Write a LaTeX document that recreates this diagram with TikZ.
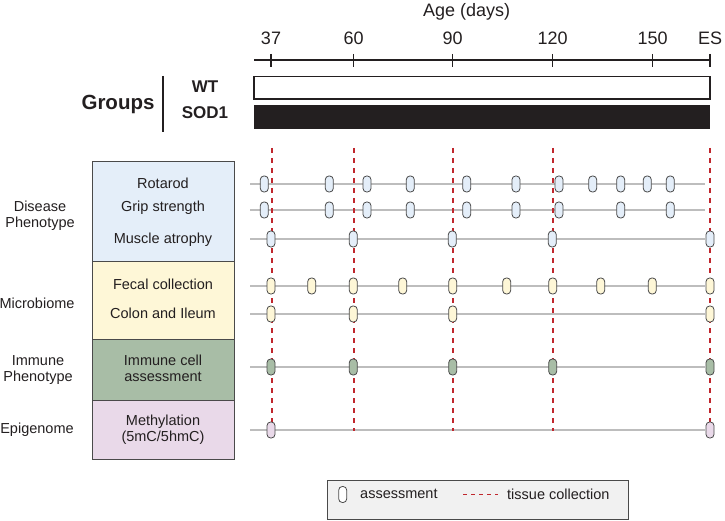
\documentclass[tikz,border=0pt]{standalone}
\usepackage{fontspec}
\setmainfont{Liberation Sans}
\definecolor{bluebox}{HTML}{E4EEF9}
\definecolor{yellowbox}{HTML}{FEF7D7}
\definecolor{greenbox}{HTML}{A8BDA6}
\definecolor{purplebox}{HTML}{E9D9E9}
\definecolor{bordergray}{HTML}{4A4A4A}
\definecolor{linegray}{HTML}{BDBDBD}
\definecolor{tissuered}{HTML}{C0272D}
\definecolor{legendfill}{HTML}{F1F1F1}
\definecolor{txtcol}{HTML}{231F20}
\tikzset{
  txt/.style={font=\fontsize{14.5}{17}\selectfont, text=txtcol, inner sep=0pt, align=center},
  axtxt/.style={font=\fontsize{18}{21}\selectfont, text=txtcol, inner sep=0pt},
  catbox/.style={draw=bordergray, line width=0.9pt, inner sep=0pt, outer sep=0pt, minimum width=142pt},
  mk/.style={draw=bordergray, line width=0.8pt, rounded corners=3.6pt, minimum width=8pt, minimum height=16pt, inner sep=0pt},
  tline/.style={draw=linegray, line width=1.6pt},
  tissue/.style={draw=tissuered, line width=1.8pt, dash pattern=on 5pt off 5pt},
}
\begin{document}
\begin{tikzpicture}[x=1pt,y=-1pt]
\useasboundingbox (0,0) rectangle (725,521);
% axis
\node[axtxt] (age) at (466.7,12) {Age (days)};
\coordinate (axl) at (254,60);
\coordinate (axr) at (710,60);
\draw[line width=1.2pt, draw=txtcol] (axl) -- (axr);
\foreach \x/\l [count=\i] in {271/37,353.7/60,452.7/90,552.7/120,652.7/150,710/ES}{
  \coordinate (tk\i) at (\x,54);
  \draw[line width=1.2pt, draw=txtcol] (tk\i) -- ++(0,13);
  \node[axtxt] (tl\i) at (\x,38.5) {\l};
}
% groups
\node[font=\fontsize{20.5}{24}\selectfont\bfseries, text=txtcol, inner sep=0pt] (groups) at (118,104.5) {Groups};
\coordinate (gv1) at (163,76);
\coordinate (gv2) at (163,132);
\draw[line width=1.2pt, draw=txtcol] (gv1) -- (gv2);
\node[font=\fontsize{17}{20}\selectfont\bfseries, text=txtcol, inner sep=0pt] (wt) at (205,87) {WT};
\node[font=\fontsize{17}{20}\selectfont\bfseries, text=txtcol, inner sep=0pt] (sod) at (205,113) {SOD1};
\draw[draw=txtcol, line width=1.4pt, fill=white] (254,76.5) rectangle (710,99);
\fill[fill=txtcol] (254,105) rectangle (710,129.5);
% category boxes
\node[catbox, fill=bluebox, minimum height=100pt] (bdis) at (163,211) {};
\node[catbox, fill=yellowbox, minimum height=78pt] (bmic) at (163,300) {};
\node[catbox, fill=greenbox, minimum height=61pt] (bimm) at (163,369.5) {};
\node[catbox, fill=purplebox, minimum height=59pt] (bepi) at (163,429.5) {};
\node[txt] (trot) at (163,183) {Rotarod};
\node[txt] (tgrip) at (163,207.5) {Grip strength};
\node[txt] (tmus) at (163,240) {Muscle atrophy};
\node[txt] (tfec) at (163,284) {Fecal collection};
\node[txt] (tcol) at (163,313) {Colon and Ileum};
\node[txt] (timm) at (163,368) {Immune cell\\[-1pt]assessment};
\node[txt] (tmet) at (163,429.5) {Methylation\\[-1pt](5mC/5hmC)};
% left labels
\node[txt] (ldis) at (40,216) {Disease\\[-1pt]Phenotype};
\node[txt] (lmic) at (37,303) {Microbiome};
\node[txt] (limm) at (38,370) {Immune\\[-1pt]Phenotype};
\node[txt] (lepi) at (37,429.5) {Epigenome};
% timelines
\foreach \y [count=\i] in {184,210,239,286,314,367,430}{
  \coordinate (ra\i) at (250,\y);
  \coordinate (rb\i) at (705,\y);
  \draw[tline] (ra\i) -- (rb\i);
}
% tissue collection
\foreach \x [count=\i] in {271.7,353.7,452.7,552.7,710}{
  \coordinate (da\i) at (\x,148);
  \coordinate (db\i) at (\x,431);
  \draw[tissue] (da\i) -- (db\i);
}
% markers
\foreach \x [count=\i] in {264.3,329.3,367,410.3,466.7,516,559,592.7,620.7,647.3,670.3}
  \node[mk, fill=bluebox] (mrot\i) at (\x,184) {};
\foreach \x [count=\i] in {264.3,329.3,367,410.3,466.7,516,559,620.7,670.3}
  \node[mk, fill=bluebox] (mgrip\i) at (\x,210) {};
\foreach \x [count=\i] in {271,353.3,452.3,552.3,710}
  \node[mk, fill=bluebox] (mmus\i) at (\x,239) {};
\foreach \x [count=\i] in {271,311.7,353.3,402.7,452.7,506.7,552.7,600.7,652.3,710}
  \node[mk, fill=yellowbox] (mfec\i) at (\x,286) {};
\foreach \x [count=\i] in {271,353.3,452.7,710}
  \node[mk, fill=yellowbox] (mcol\i) at (\x,314) {};
\foreach \x [count=\i] in {271,353.3,452.7,552.7,710}
  \node[mk, fill=greenbox] (mimm\i) at (\x,367) {};
\foreach \x [count=\i] in {271,710}
  \node[mk, fill=purplebox] (mmet\i) at (\x,430) {};
% legend
\node[draw=bordergray, line width=0.9pt, fill=legendfill, minimum width=301pt, minimum height=39pt, inner sep=0pt] (legend) at (477.5,499.5) {};
\node[mk, fill=white] (lgmk) at (342.7,494.5) {};
\node[txt, anchor=west] (lgass) at (360,494) {assessment};
\coordinate (lgd1) at (463,494.5);
\coordinate (lgd2) at (498,494.5);
\draw[draw=tissuered, line width=1.5pt, dash pattern=on 4pt off 4pt] (lgd1) -- (lgd2);
\node[txt, anchor=west] (lgtis) at (507,494) {tissue collection};
\end{tikzpicture}
\end{document}
